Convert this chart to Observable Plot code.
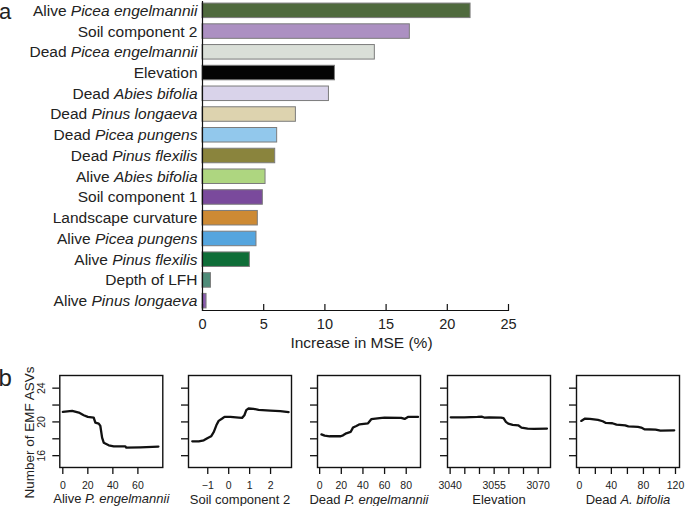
<!DOCTYPE html>
<html><head><meta charset="utf-8">
<script src="https://cdn.jsdelivr.net/npm/d3@7"></script>
<script src="https://cdn.jsdelivr.net/npm/@observablehq/plot@0.6"></script>
<style>
body{margin:0;background:#fff;font-family:"Liberation Sans",Arial,Helvetica,sans-serif;}
#wrap{position:relative;width:685px;height:506px;overflow:hidden;background:#fff;}
#wrap svg{position:absolute;overflow:visible;}
.lab{position:absolute;line-height:1.117;color:#222;}
</style></head><body><div id="wrap"><div class="lab" style="left:-1px;top:0px;font-size:22px">a</div><div class="lab" style="left:-1.5px;top:364.5px;font-size:24px">b</div></div>
<script>
const FONT = '"Liberation Sans", Arial, Helvetica, sans-serif';
// ---- panel a: variable importance ----
const predictors = ["Alive *Picea engelmannii*","Soil component 2","Dead *Picea engelmannii*","Elevation","Dead *Abies bifolia*","Dead *Pinus longaeva*","Dead *Picea pungens*","Dead *Pinus flexilis*","Alive *Abies bifolia*","Soil component 1","Landscape curvature","Alive *Picea pungens*","Alive *Pinus flexilis*","Depth of LFH","Alive *Pinus longaeva*"];
const increaseMSE = [21.9, 16.94, 14.08, 10.82, 10.33, 7.63, 6.10, 5.94, 5.15, 4.93, 4.52, 4.41, 3.87, 0.69, 0.33];
const barColors = ["#4F6A3D","#AC90C2","#DADFD8","#050505","#D9D3EA","#DDD3AF","#92C8EC","#8A843D","#AED680","#7A4A9C","#CD8A34","#55A5DE","#0F6E38","#4F8C79","#8A5BAE"];
const mseTicks = [0, 5, 10, 15, 20, 25];

// ---- panel b: partial dependence ----
const yTicksB = [16, 18, 20, 22, 24];
const yLabelledB = [16, 20, 24];
const pdAliveEng = [[0,21.19],[7.5,21.31],[12.8,21.11],[16.7,20.79],[20,20.59],[24.7,20.52],[26,19.92],[28.7,19.8],[30,19.52],[31.4,18.14],[32.7,17.54],[36.7,17.23],[40.7,17.11],[50,17.11],[50.7,16.95],[62,16.99],[76.4,17.07]];
const pdSoil2 = [[-1.74,17.7],[-1.43,17.7],[-1.19,17.82],[-1.0,18.1],[-0.84,18.3],[-0.71,18.81],[-0.59,19.6],[-0.48,20.12],[-0.31,20.4],[-0.2,20.6],[0.08,20.6],[0.48,20.52],[0.64,20.48],[0.75,20.79],[0.84,21.39],[0.95,21.59],[1.19,21.55],[1.43,21.43],[1.99,21.35],[2.46,21.27],[2.86,21.15]];
const pdDeadEng = [[1.6,18.53],[4.6,18.37],[9.2,18.3],[19.4,18.3],[21.6,18.41],[24.6,18.65],[28.6,18.81],[30.8,19.33],[33.9,19.52],[36.9,19.72],[44.7,19.84],[47.7,20.32],[55.4,20.44],[60,20.52],[75.4,20.48],[78.5,20.36],[81.6,20.59],[90.9,20.59]];
const pdElev = [[3040.2,20.55],[3044.8,20.55],[3049.3,20.59],[3050.7,20.63],[3051.6,20.52],[3053.3,20.55],[3057.3,20.52],[3058.2,20.44],[3059.0,20.0],[3059.8,19.8],[3061.3,19.64],[3063.2,19.6],[3064.3,19.33],[3066.4,19.21],[3068.6,19.17],[3073,19.21]];
const pdDeadAbies = [[2.4,20.12],[7.2,20.4],[13.2,20.36],[23.2,20.24],[29.2,20.08],[33.2,19.88],[41.2,19.84],[46.4,19.68],[57.2,19.6],[61.2,19.48],[73.2,19.41],[77.2,19.33],[81.2,19.13],[95.2,19.09],[101.2,18.97],[118.4,19.01]];
const panelTitles = ["Alive *P. engelmannii*","Soil component 2","Dead *P. engelmannii*","Elevation","Dead *A. bifolia*"];
const panelXTicks = [[0,20,40,60],[-1,0,1,2],[0,20,40,60,80],[3040,3045,3050,3055,3060,3065,3070],[0,20,40,60,80,100,120]];
const panelXLabelled = [[0,20,40,60],[-1,0,1,2],[0,20,40,60,80],[3040,3055,3070],[0,40,80,120]];
const panelXDomains = [[-2.4,79.9],[-1.92,3.0],[-2.0,93.2],[3039.1,3074.2],[-3.5,125]];
const panelCurves = [pdAliveEng, pdSoil2, pdDeadEng, pdElev, pdDeadAbies];
const panelLefts = [59.3, 188.3, 316.5, 446.7, 575.5];

function italicize(svg) {
  svg.querySelectorAll("text").forEach(t => {
    if (t.children.length === 0 && t.textContent.includes("*")) {
      const parts = t.textContent.split("*");
      t.textContent = "";
      parts.forEach((p, k) => {
        if (!p) return;
        const ts = document.createElementNS("http://www.w3.org/2000/svg", "tspan");
        ts.textContent = p;
        if (k % 2 === 1) ts.setAttribute("font-style", "italic");
        t.appendChild(ts);
      });
    }
  });
}

const wrap = document.getElementById("wrap");
const barData = predictors.map((p, i) => ({p, v: increaseMSE[i], c: barColors[i]}));

const topChart = Plot.plot({
  width: 685, height: 355,
  marginTop: 1, marginBottom: 45, marginLeft: 202, marginRight: 177,
  style: {fontFamily: FONT, fontSize: "15px", color: "#222", background: "transparent", overflow: "visible"},
  x: {domain: [0, 25]},
  y: {domain: predictors, paddingInner: 0.3, paddingOuter: 0.1, round: false},
  marks: [
    Plot.barX(barData, {x: "v", y: "p", fill: "c", stroke: "#7c7c7c", strokeWidth: 1}),
    Plot.axisY({tickSize: 0, tickPadding: 5, fontSize: 15.5, tickFormat: d => d, label: null, fill: "#222"}),
    Plot.axisX(mseTicks, {tickSize: 6, dy: -6, tickFormat: () => "", label: null, stroke: "#111", strokeWidth: 1.2}),
    Plot.axisX(mseTicks, {tickSize: 0, tickPadding: 8, fontSize: 14.5, label: null, fill: "#222"}),
    Plot.frame({anchor: "left", stroke: "#111", strokeWidth: 1.2}),
    Plot.frame({anchor: "bottom", stroke: "#111", strokeWidth: 1.2}),
    Plot.text(["Increase in MSE (%)"], {frameAnchor: "bottom", dy: 37, dx: 6, lineAnchor: "bottom", fontSize: 15.5, fill: "#222"})
  ]
});
italicize(topChart);
topChart.style.left = "0px"; topChart.style.top = "0px";
wrap.appendChild(topChart);

const fmtNum = d => d < 0 ? "\u2212" + Math.abs(d) : String(d);

panelCurves.forEach((curve, i) => {
  const first = i === 0;
  const mL = first ? 59.3 : 12;
  const data = curve.map(([x, y]) => ({x, y}));
  const svg = Plot.plot({
    width: mL + 103 + 6, height: 135,
    marginTop: 4, marginBottom: 39, marginLeft: mL, marginRight: 6,
    style: {fontFamily: FONT, fontSize: "10.5px", color: "#222", background: "transparent", overflow: "visible"},
    x: {domain: panelXDomains[i]},
    y: {domain: [14.6, 25.5]},
    marks: [
      Plot.axisY(yTicksB, {tickSize: 7, tickPadding: 8, tickRotate: -90, fontSize: 10.5, strokeWidth: 1.3, stroke: "#111", fill: "#222",
        tickFormat: d => (first && yLabelledB.includes(d)) ? String(d) : "", label: null}),
      Plot.axisX(panelXTicks[i], {tickSize: 7, tickPadding: 7.5, fontSize: 10.5, strokeWidth: 1.3, stroke: "#111", fill: "#222",
        tickFormat: d => panelXLabelled[i].includes(d) ? fmtNum(d) : "", label: null}),
      Plot.line(data, {x: "x", y: "y", stroke: "#111", strokeWidth: 2.3, strokeLinejoin: "round"}),
      Plot.frame({stroke: "#111", strokeWidth: 1.4}),
      Plot.text([panelTitles[i]], {frameAnchor: "bottom", dy: 36, lineAnchor: "bottom", fontSize: 13, fill: "#222"}),
      first ? Plot.text(["Number of EMF ASVs"], {frameAnchor: "left", rotate: -90, dx: -26, dy: 11, textAnchor: "middle", lineAnchor: "bottom", fontSize: 13.5, fill: "#222"}) : null
    ]
  });
  italicize(svg);
  svg.style.left = (panelLefts[i] - mL) + "px";
  svg.style.top = "371px";
  wrap.appendChild(svg);
});
</script></body></html>
